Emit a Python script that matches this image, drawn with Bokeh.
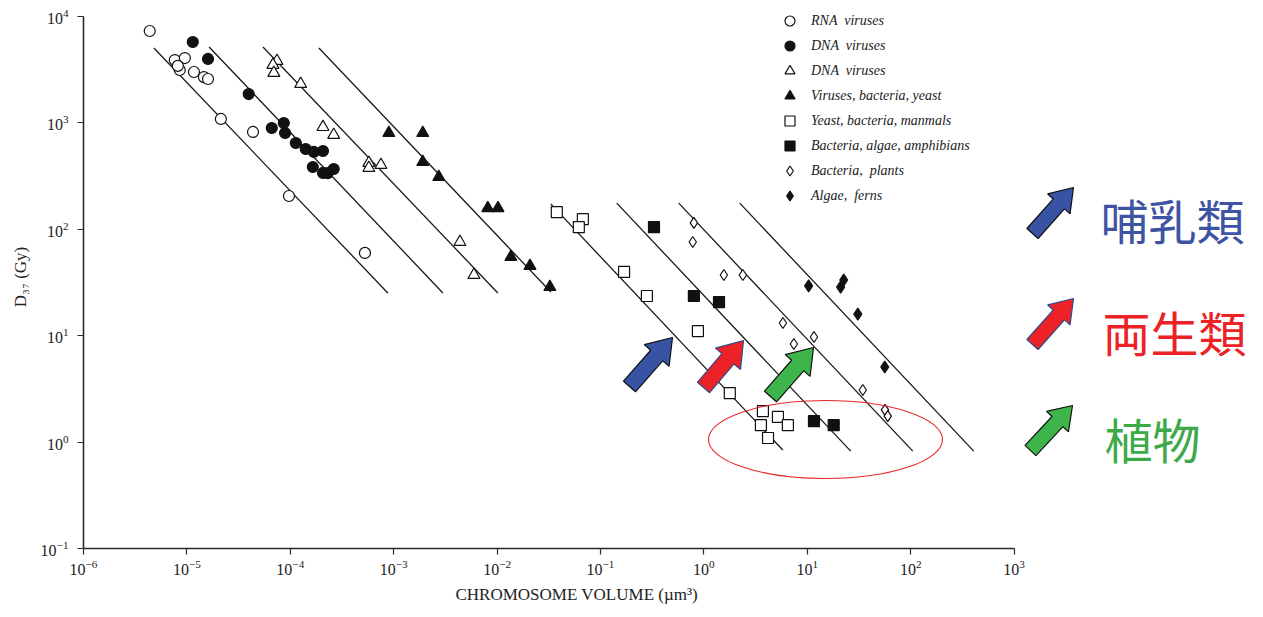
import math
from bokeh.plotting import figure
from bokeh.models import Legend, LegendItem, FixedTicker, LogTickFormatter, Range1d, Title
from bokeh.embed import file_html
from bokeh.resources import INLINE
from bokeh.core.properties import value

# ---------------- data ----------------
rna_x = [4.37e-6, 7.64e-6, 9.55e-6, 8.53e-6, 8.17e-6, 1.17e-5, 1.46e-5, 1.60e-5, 2.13e-5, 4.36e-5, 9.7e-5, 5.27e-4]
rna_y = [7230, 3860, 4030, 3110, 3400, 2980, 2670, 2560, 1080, 815, 204, 59.6]

dnac_x = [1.14e-5, 1.60e-5, 3.96e-5, 6.62e-5, 8.65e-5, 8.9e-5, 1.13e-4, 1.41e-4, 1.69e-4, 2.07e-4, 1.65e-4, 2.07e-4, 2.63e-4, 2.3e-4]
dnac_y = [5700, 3950, 1850, 888, 989, 797, 642, 564, 529, 540, 382, 336, 366, 335]

dnat_x = [7.43e-5, 6.79e-5, 6.93e-5, 1.26e-4, 2.07e-4, 2.63e-4, 5.75e-4, 5.75e-4, 7.52e-4, 4.37e-3, 5.97e-3]
dnat_y = [3780, 3470, 2920, 2300, 907, 764, 417, 374, 399, 75.5, 37]

vby_x = [8.97e-4, 1.91e-3, 1.91e-3, 2.73e-3, 8.13e-3, 1.02e-2, 1.36e-2, 2.08e-2, 3.24e-2]
vby_y = [797, 797, 426, 308, 157, 157, 54.6, 45, 28.5]

ybm_x = [0.0378, 0.0675, 0.0617, 0.169, 0.281, 0.875, 1.78, 3.72, 3.56, 5.2, 6.49, 4.17]
ybm_y = [144, 124, 104, 39.5, 23.5, 11.0, 2.88, 1.95, 1.44, 1.72, 1.44, 1.09]

baa_x = [0.329, 0.80, 1.40, 11.6, 18.0]
baa_y = [104, 23.5, 20.6, 1.57, 1.44]

bp_x = [0.80, 0.78, 1.56, 2.38, 5.81, 7.41, 11.6, 34.4, 56.4, 60]
bp_y = [114, 75.5, 37, 37, 13.1, 8.32, 9.68, 3.08, 2.0, 1.75]

af_x = [10.3, 21.0, 22.5, 30.8, 56.1]
af_y = [29.2, 28.5, 33.2, 15.9, 5.06]

# fitted lines (start / end)
line_x0 = [4.79e-6, 1.64e-5, 5.44e-5, 1.89e-4, 0.0330, 0.1436, 0.571, 2.22]
line_y0 = [5012, 5117, 5117, 5012, 172, 175, 175, 175]
line_x1 = [8.77e-4, 2.99e-3, 1.016e-2, 3.31e-2, 5.79, 26.3, 104.7, 407]
line_y1 = [25.1, 25.1, 25.1, 25.6, 0.84, 0.82, 0.82, 0.82]

legend_labels = ["RNA  viruses", "DNA  viruses", "DNA  viruses", "Viruses, bacteria, yeast",
                 "Yeast, bacteria, manmals", "Bacteria, algae, amphibians",
                 "Bacteria,  plants", "Algae,  ferns"]

group_labels = ["哺乳類", "両生類", "植物"]
group_colors = ["#3E54A3", "#EC2227", "#3DAA48"]

x_ticks = [10.0 ** k for k in range(-6, 4)]
y_ticks = [10.0 ** k for k in range(-1, 5)]

x_title = "CHROMOSOME VOLUME (µm³)"
y_title = "D₃₇ (Gy)"

# ---------------- layout geometry ----------------
W, H = 1263, 617
FL, FR, FT, FB = 83, 1258, 5, 548
DX, DY = 103.4, 106.5
x_lo, y_lo = 1e-6, 0.1
x_hi = 10 ** (-6 + (FR - FL) / DX)
y_hi = 10 ** (-1 + (FB - FT) / DY)


def to_data(px, py):
    return 10 ** (-6 + (px - FL) / DX), 10 ** (-1 + (FB - py) / DY)


p = figure(width=W, height=H, x_axis_type="log", y_axis_type="log",
           x_range=Range1d(x_lo, x_hi), y_range=Range1d(y_lo, y_hi),
           output_backend="svg", toolbar_location=None,
           min_border_left=FL, min_border_right=W - FR,
           min_border_top=FT, min_border_bottom=H - FB)
p.background_fill_color = "white"
p.border_fill_color = "white"
p.outline_line_color = None
p.xgrid.visible = False
p.ygrid.visible = False

for ax, ticks, bnds in ((p.xaxis, x_ticks, (1e-6, 1e3)), (p.yaxis, y_ticks, (0.1, 1e4))):
    ax.ticker = FixedTicker(ticks=ticks)
    ax.formatter = LogTickFormatter()
    ax.bounds = bnds
    ax.axis_line_color = "#2a2a2a"
    ax.axis_line_width = 1.6
    ax.major_tick_line_color = "#2a2a2a"
    ax.major_tick_line_width = 1.2
    ax.major_tick_out = 6
    ax.major_tick_in = 0
    ax.minor_tick_line_color = None
    ax.major_label_text_font = "Liberation Serif"
    ax.major_label_text_font_size = "16px"
    ax.major_label_text_color = "#222222"
    ax.axis_label_text_font = "Liberation Serif"
    ax.axis_label_text_font_style = "normal"
    ax.axis_label_text_color = "#222222"

p.xaxis.major_label_standoff = 5
p.yaxis.axis_label = y_title
p.yaxis.axis_label_text_font_size = "17px"
p.yaxis.major_label_standoff = 9
p.yaxis.axis_label_standoff = 8

# x-axis title, placed under the axis where the reference puts it
p.add_layout(Title(text=x_title, align="left", offset=455 - FL, standoff=14, vertical_align="top",
                   text_font="Liberation Serif", text_font_size="17px",
                   text_font_style="normal", text_color="#222222"), "below")

# fitted lines
p.segment(x0=line_x0, y0=line_y0, x1=line_x1, y1=line_y1, line_color="#1a1a1a", line_width=1.3)

# series
common = dict(line_color="#111111", line_width=1.2)
r1 = p.scatter(rna_x, rna_y, marker="circle", size=11, fill_color="white", **common)
r2 = p.scatter(dnac_x, dnac_y, marker="circle", size=11, fill_color="#111111", **common)
r3 = p.scatter(dnat_x, dnat_y, marker="triangle", size=12, fill_color="white", **common)
r4 = p.scatter(vby_x, vby_y, marker="triangle", size=12, fill_color="#111111", **common)
r5 = p.scatter(ybm_x, ybm_y, marker="square", size=11, fill_color="white", **common)
r6 = p.scatter(baa_x, baa_y, marker="square", size=11, fill_color="#111111", **common)
r7 = p.scatter(bp_x, bp_y, marker="diamond", size=11, fill_color="white", **common)
r8 = p.scatter(af_x, af_y, marker="diamond", size=12, fill_color="#111111", **common)

renderers = [r1, r2, r3, r4, r5, r6, r7, r8]
legend = Legend(items=[LegendItem(label=lab, renderers=[r]) for lab, r in zip(legend_labels, renderers)],
                location=(694, 340), orientation="vertical",
                background_fill_alpha=0, border_line_color=None,
                padding=0, margin=0, spacing=0,
                glyph_width=25, glyph_height=25, label_height=25, label_standoff=9,
                label_text_font="Liberation Serif", label_text_font_style="italic",
                label_text_font_size="14px", label_text_color="#222222")
p.add_layout(legend)

# ---------------- annotations ----------------
ecx, ecy = to_data(825, 439)
p.ellipse(x=[ecx], y=[ecy], width=234, height=78, width_units="screen", height_units="screen",
          fill_color=None, line_color="#E8262B", line_width=1.1)


def block_arrow(tail, tip, w, hw, hl):
    tx, ty = tail
    hx, hy = tip
    dx, dy = hx - tx, hy - ty
    L = math.hypot(dx, dy)
    ux, uy = dx / L, dy / L
    nx, ny = -uy, ux
    bx, by = hx - ux * hl, hy - uy * hl
    pts = [(tx + nx * w / 2, ty + ny * w / 2), (bx + nx * w / 2, by + ny * w / 2),
           (bx + nx * hw / 2, by + ny * hw / 2), (hx, hy),
           (bx - nx * hw / 2, by - ny * hw / 2), (bx - nx * w / 2, by - ny * w / 2),
           (tx - nx * w / 2, ty - ny * w / 2)]
    d = [to_data(a, b) for a, b in pts]
    return [q[0] for q in d], [q[1] for q in d]


arrow_fills = ["#3953A4", "#EC2227", "#3DB54A"]
arrow_lines = ["#111111", "#2B4C8C", "#111111"]
plot_arrows = [((629, 386), (672, 337)), ((703, 387), (743, 340)), ((770, 396), (813, 347))]
side_arrows = [((1032, 233), (1073, 187)), ((1032, 344), (1073, 298)), ((1030, 450), (1072, 405))]
for (tail, tip), fc, lc in zip(plot_arrows, arrow_fills, arrow_lines):
    xs, ys = block_arrow(tail, tip, 16, 33, 24)
    p.patch(xs, ys, fill_color=fc, line_color=lc, line_width=1.2)
for (tail, tip), fc, lc in zip(side_arrows, arrow_fills, arrow_lines):
    xs, ys = block_arrow(tail, tip, 15, 30, 22)
    p.patch(xs, ys, fill_color=fc, line_color=lc, line_width=1.2)

text_pos = [(1100, 218), (1102, 330), (1104, 437)]
for (tx, ty), lab, col in zip(text_pos, group_labels, group_colors):
    dx_, dy_ = to_data(tx, ty)
    p.text(x=[dx_], y=[dy_], text=[lab], text_color=col, text_font=value("Noto Sans CJK JP"),
           text_font_size="48px", text_baseline="middle", text_align="left")

open("out.html", "w").write(file_html(p, INLINE))
